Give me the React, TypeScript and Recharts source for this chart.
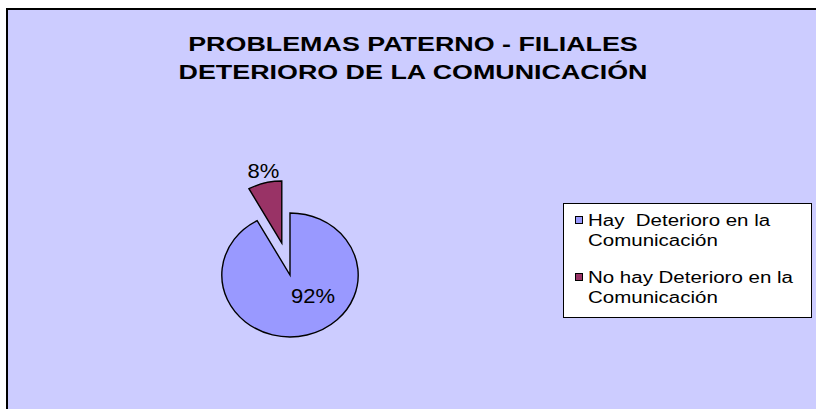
import { Legend, Pie, PieChart } from 'recharts';

const categories = ['Hay  Deterioro en la Comunicación', 'No hay Deterioro en la Comunicación'];
const percents = [92, 8];
const colors = ['#9999FF', '#993366'];
const titleLines = ['PROBLEMAS PATERNO - FILIALES', 'DETERIORO DE LA COMUNICACIÓN'];

const data = categories.map((name, i) => ({ name, value: percents[i], fill: colors[i] }));

const RAD = Math.PI / 180;
const STRETCH = 1.1; // the pie in the original is a little wider than tall
const EXPLODE = 33;
const FONT = '"Liberation Sans", Arial, sans-serif';

function EllipseSlice(props: any) {
  const { cx, cy, outerRadius, startAngle, endAngle, midAngle, fill, payload } = props;
  const exploded = (payload?.name ?? props.name) === categories[1];
  const d = exploded ? EXPLODE : 0;
  const ox = cx + d * Math.cos(midAngle * RAD);
  const oy = cy - d * Math.sin(midAngle * RAD);
  const rx = outerRadius * STRETCH;
  const ry = outerRadius;
  const pt = (a: number) => [ox + rx * Math.cos(a * RAD), oy - ry * Math.sin(a * RAD)];
  const [x1, y1] = pt(startAngle);
  const [x2, y2] = pt(endAngle);
  const large = Math.abs(endAngle - startAngle) > 180 ? 1 : 0;
  const sweep = startAngle > endAngle ? 1 : 0;
  return (
    <path
      d={`M${ox},${oy} L${x1},${y1} A${rx},${ry} 0 ${large} ${sweep} ${x2},${y2} Z`}
      fill={fill}
      stroke="#000"
      strokeWidth={1.4}
    />
  );
}

function renderLabel(props: any) {
  const { cx, cy, midAngle, outerRadius, value, index } = props;
  let x: number;
  let y: number;
  if (index === 1) {
    const r = EXPLODE + outerRadius + 12;
    x = cx + r * Math.cos(midAngle * RAD);
    y = cy - r * Math.sin(midAngle * RAD);
  } else {
    x = cx + outerRadius * 0.37;
    y = cy + outerRadius * 0.33;
  }
  return (
    <text
      transform={`translate(${x},${y}) scale(1.1,1)`}
      textAnchor="middle"
      dominantBaseline="central"
      fontSize={20}
      fontFamily={FONT}
      fill="#000"
    >
      {value}%
    </text>
  );
}

function LegendBox() {
  return (
    <div
      style={{
        boxSizing: 'border-box',
        width: 249,
        height: 115,
        background: '#fff',
        border: '1px solid #000',
        position: 'relative',
        fontFamily: FONT,
        fontSize: 16,
        lineHeight: '20px',
        color: '#000',
        textAlign: 'left',
      }}
    >
      {categories.map((name, i) => {
        const cut = name.lastIndexOf(' ');
        return (
          <div key={name} style={{ position: 'absolute', left: 0, top: i === 0 ? 7 : 64.3, width: 240 }}>
            <div
              style={{
                position: 'absolute',
                left: 11,
                top: 4.5,
                width: 8,
                height: 8,
                boxSizing: 'border-box',
                border: '1.5px solid #000',
                background: colors[i],
              }}
            />
            <div style={{ marginLeft: 24, whiteSpace: 'pre', transform: 'scaleX(1.28)', transformOrigin: 'left' }}>
              {name.slice(0, cut)}
            </div>
            <div style={{ marginLeft: 24, whiteSpace: 'pre', transform: 'scaleX(1.28)', transformOrigin: 'left' }}>
              {name.slice(cut + 1)}
            </div>
          </div>
        );
      })}
    </div>
  );
}

export default function App() {
  return (
    <div style={{ position: 'fixed', left: 0, top: 0, width: 816, height: 409, background: '#fff', overflow: 'hidden' }}>
      <div
        style={{
          position: 'absolute',
          left: 6,
          top: 8,
          right: 0,
          bottom: 0,
          borderLeft: '2px solid #000',
          borderTop: '2px solid #000',
          background: '#CCCCFF',
        }}
      />
      <div style={{ position: 'absolute', left: 0, top: 0 }}>
        <PieChart width={816} height={409}>
          <Pie
            data={data}
            dataKey="value"
            nameKey="name"
            cx={285}
            cy={270}
            outerRadius={62}
            startAngle={90}
            endAngle={-270}
            stroke="#000"
            shape={EllipseSlice}
            label={renderLabel}
            labelLine={false}
            isAnimationActive={false}
          />
          <Legend
            layout="vertical"
            wrapperStyle={{ left: 563, top: 203, width: 249, height: 115 }}
            content={() => <LegendBox />}
          />
        </PieChart>
      </div>
      <div
        style={{
          position: 'absolute',
          left: 0,
          top: 29.6,
          width: 826,
          textAlign: 'center',
          fontFamily: FONT,
          fontWeight: 'bold',
          fontSize: 20.5,
          lineHeight: '28px',
          color: '#000',
          transform: 'scaleX(1.31)',
          transformOrigin: 'center',
        }}
      >
        {titleLines.map((t) => (
          <div key={t}>{t}</div>
        ))}
      </div>
    </div>
  );
}
